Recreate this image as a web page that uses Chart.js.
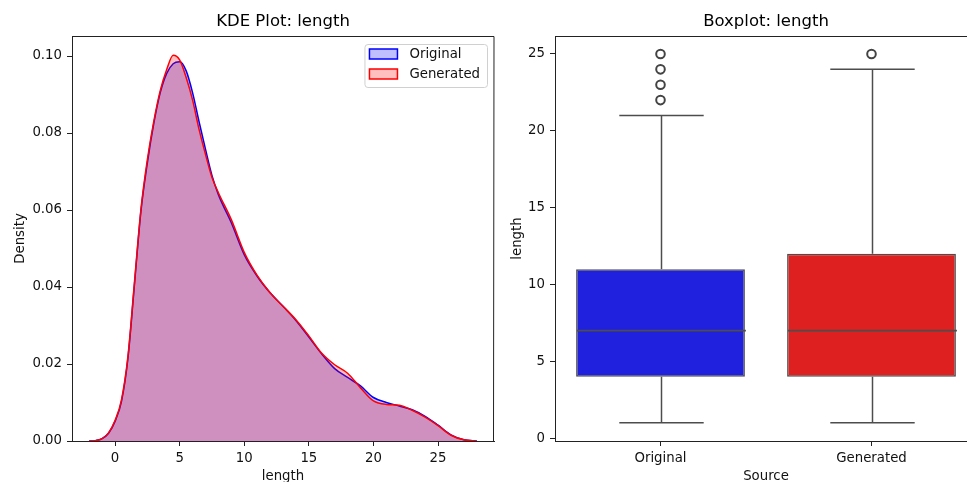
<!DOCTYPE html>
<html>
<head>
<meta charset="utf-8">
<script src="https://cdn.jsdelivr.net/npm/chart.js@4.4.0/dist/chart.umd.min.js"></script>
<style>
  body { margin: 0; width: 967px; height: 482px; overflow: hidden; position: relative; background: #fff; }
  .panel { position: absolute; top: 0; }
</style>
</head>
<body>
<div class="panel" style="left:0"><canvas id="kde" width="500" height="482"></canvas></div>
<div class="panel" style="left:500px"><canvas id="box" width="490" height="482"></canvas></div>
<script>
// KDE curves
const kdeX = [-2, -1.5, -1, -0.5, 0, 0.5, 1, 1.5, 2, 2.5, 3, 3.5, 4, 4.5, 5, 5.5, 6, 6.5, 7, 7.5, 8,
  9, 10, 11, 12, 13, 14, 15, 16, 17, 18, 19, 20, 21, 22, 23, 24, 25, 26, 27, 28];
const originalDensity = [0, 0.0001, 0.0006, 0.002, 0.0051, 0.0103, 0.0215, 0.0405, 0.0595, 0.0722, 0.0825, 0.0905, 0.0955, 0.098, 0.0985, 0.0962, 0.0905, 0.083, 0.0758, 0.069, 0.064,
  0.0567, 0.0484, 0.0428, 0.0385, 0.035, 0.0313, 0.027, 0.0226, 0.0188, 0.0165, 0.0143, 0.0113, 0.01, 0.0091, 0.0081, 0.0064, 0.0041, 0.0016, 0.0003, 0];
const generatedDensity = [0, 0.0001, 0.0006, 0.0021, 0.0053, 0.0107, 0.022, 0.041, 0.06, 0.073, 0.083, 0.091, 0.0965, 0.1002, 0.099, 0.0945, 0.0886, 0.081, 0.0745, 0.0685, 0.0645,
  0.0575, 0.049, 0.043, 0.0385, 0.035, 0.0315, 0.0273, 0.0228, 0.0198, 0.0176, 0.0138, 0.0104, 0.0095, 0.0093, 0.008, 0.0062, 0.004, 0.0015, 0.0003, 0];
const densityTicks = [0, 0.02, 0.04, 0.06, 0.08, 0.1];
const lengthTicks = [0, 5, 10, 15, 20, 25];

// boxplot summary per source
const sources = ["Original", "Generated"];
const q1 = [4, 4];
const medians = [7, 7];
const q3 = [11, 12];
const whiskerLow = [1, 1];
const whiskerHigh = [21, 24];
const outliersOriginal = [22, 23, 24, 25];
const outliersGenerated = [25];

const axisColor = "#222";
const textColor = "#111";
const lineColor = "#4d4d4d";
const boxColors = ["#2020df", "#df2020"];
const tickFont = { size: 13.3 };

Chart.defaults.font.family = "'DejaVu Sans', sans-serif";
Chart.defaults.color = textColor;
Chart.defaults.animation = false;

function fixedTicks(values) {
  return (axis) => { axis.ticks = values.map((v) => ({ value: v })); };
}

function axisOpts(extra) {
  return Object.assign({
    border: { display: true, color: axisColor, width: 1 },
    grid: { display: true, drawOnChartArea: false, drawTicks: true, tickLength: 5, tickColor: axisColor },
  }, extra);
}

// title above the axes + top/right spines
function panelFrame(title) {
  return {
    id: "panelFrame",
    afterDraw(chart) {
      const { ctx, chartArea: a } = chart;
      ctx.save();
      ctx.strokeStyle = axisColor;
      ctx.lineWidth = 1;
      ctx.beginPath();
      ctx.moveTo(Math.round(a.left), Math.round(a.top) + 0.5);
      ctx.lineTo(Math.round(a.right), Math.round(a.top) + 0.5);
      ctx.lineTo(Math.round(a.right) - 0.5, Math.round(a.bottom));
      ctx.stroke();
      ctx.fillStyle = "#000";
      ctx.font = "16.5px 'DejaVu Sans', sans-serif";
      ctx.textAlign = "center";
      ctx.textBaseline = "middle";
      ctx.fillText(title, (a.left + a.right) / 2, 22);
      ctx.restore();
    },
  };
}

const kdeLegend = {
  id: "kdeLegend",
  afterDraw(chart) {
    const { ctx, chartArea: a } = chart;
    const sets = chart.data.datasets;
    ctx.save();
    ctx.font = "13.3px 'DejaVu Sans', sans-serif";
    const textW = Math.max(...sets.map((d) => ctx.measureText(d.label).width));
    const w = 5 + 28 + 12 + textW + 7;
    const h = 43;
    const x0 = a.right - 7 - w;
    const y0 = a.top + 8;
    ctx.beginPath();
    ctx.roundRect(x0 + 0.5, y0 + 0.5, w, h, 3);
    ctx.fillStyle = "rgba(255,255,255,0.8)";
    ctx.fill();
    ctx.strokeStyle = "#d0d0d0";
    ctx.lineWidth = 1;
    ctx.stroke();
    sets.forEach((d, i) => {
      const cy = y0 + 10 + i * 20;
      ctx.fillStyle = "#fff";
      ctx.fillRect(x0 + 5, cy - 5, 28, 10);
      ctx.fillStyle = d.backgroundColor;
      ctx.fillRect(x0 + 5, cy - 5, 28, 10);
      ctx.strokeStyle = d.borderColor;
      ctx.lineWidth = 1.5;
      ctx.strokeRect(x0 + 5, cy - 5, 28, 10);
      ctx.fillStyle = textColor;
      ctx.textBaseline = "middle";
      ctx.fillText(d.label, x0 + 45, cy + 1);
    });
    ctx.restore();
  },
};

new Chart(document.getElementById("kde"), {
  type: "line",
  data: {
    datasets: [
      {
        label: "Original",
        data: kdeX.map((x, i) => ({ x, y: originalDensity[i] })),
        borderColor: "#0000ff",
        backgroundColor: "rgba(0,0,255,0.25)",
        fill: "origin",
        order: 1,
      },
      {
        label: "Generated",
        data: kdeX.map((x, i) => ({ x, y: generatedDensity[i] })),
        borderColor: "#ff0000",
        backgroundColor: "rgba(255,0,0,0.25)",
        fill: "origin",
        order: 0,
      },
    ],
  },
  options: {
    responsive: false,
    layout: { padding: { top: 36, right: 6 } },
    elements: {
      point: { radius: 0 },
      line: { borderWidth: 1.5, cubicInterpolationMode: "monotone" },
    },
    plugins: { legend: { display: false }, tooltip: { enabled: false } },
    scales: {
      x: axisOpts({
        type: "linear",
        min: -3.33,
        max: 29.33,
        afterBuildTicks: fixedTicks(lengthTicks),
        afterFit: (s) => { s.height = 41; },
        ticks: { font: tickFont, padding: 5, maxRotation: 0 },
        title: { display: true, text: "length", font: tickFont, padding: { top: 0, bottom: -3 } },
      }),
      y: axisOpts({
        min: 0,
        max: 0.1052,
        afterBuildTicks: fixedTicks(densityTicks),
        afterFit: (s) => { s.width = 72; },
        ticks: { font: tickFont, padding: 5, callback: (v) => v.toFixed(2) },
        title: { display: true, text: "Density", font: tickFont, padding: { top: 13, bottom: 0 } },
      }),
    },
  },
  plugins: [panelFrame("KDE Plot: length"), kdeLegend],
});

// whiskers, caps and medians, placed through the chart scales
const boxWhiskers = {
  id: "boxWhiskers",
  afterDatasetsDraw(chart) {
    const { ctx, scales: { x, y } } = chart;
    const boxes = chart.getDatasetMeta(0).data;
    const seg = (x1, y1, x2, y2) => { ctx.beginPath(); ctx.moveTo(x1, y1); ctx.lineTo(x2, y2); ctx.stroke(); };
    ctx.save();
    ctx.strokeStyle = lineColor;
    ctx.lineWidth = 1.5;
    sources.forEach((s, i) => {
      const cx = Math.round(x.getPixelForValue(i)) + 0.5;
      const half = boxes[i].width / 2;
      const cap = half / 2;
      const yHi = y.getPixelForValue(whiskerHigh[i]);
      const yLo = y.getPixelForValue(whiskerLow[i]);
      seg(cx, y.getPixelForValue(q3[i]), cx, yHi);
      seg(cx - cap, yHi, cx + cap, yHi);
      seg(cx, y.getPixelForValue(q1[i]), cx, yLo);
      seg(cx - cap, yLo, cx + cap, yLo);
      ctx.lineWidth = 1.8;
      seg(cx - half, y.getPixelForValue(medians[i]), cx + half, y.getPixelForValue(medians[i]));
      ctx.lineWidth = 1.5;
    });
    ctx.restore();
  },
};

new Chart(document.getElementById("box"), {
  type: "bar",
  data: {
    labels: sources,
    datasets: [
      {
        type: "bar",
        label: "IQR",
        data: sources.map((s, i) => [q1[i], q3[i]]),
        backgroundColor: boxColors,
        borderColor: lineColor,
        borderWidth: 1.5,
        borderSkipped: false,
        barPercentage: 0.8,
        categoryPercentage: 1,
        order: 1,
      },
      {
        type: "line",
        label: "Outliers",
        data: [
          ...outliersOriginal.map((v) => ({ x: "Original", y: v })),
          ...outliersGenerated.map((v) => ({ x: "Generated", y: v })),
        ],
        showLine: false,
        pointRadius: 4.3,
        pointBorderWidth: 2,
        pointBorderColor: "#444",
        pointBackgroundColor: "rgba(0,0,0,0)",
        order: 0,
      },
    ],
  },
  options: {
    responsive: false,
    layout: { padding: { top: 36, right: 13 } },
    plugins: { legend: { display: false }, tooltip: { enabled: false } },
    scales: {
      x: axisOpts({
        type: "category",
        offset: true,
        grid: { display: true, offset: false, drawOnChartArea: false, drawTicks: true, tickLength: 5, tickColor: axisColor },
        afterFit: (s) => { s.height = 41; },
        ticks: { font: tickFont, padding: 5, maxRotation: 0 },
        title: { display: true, text: "Source", font: tickFont, padding: { top: 0, bottom: -3 } },
      }),
      y: axisOpts({
        min: -0.18,
        max: 26.17,
        afterBuildTicks: fixedTicks(lengthTicks),
        afterFit: (s) => { s.width = 55; },
        ticks: { font: tickFont, padding: 5 },
        title: { display: true, text: "length", font: tickFont, padding: { top: 10, bottom: 0 } },
      }),
    },
  },
  plugins: [panelFrame("Boxplot: length"), boxWhiskers],
});
</script>
</body>
</html>
